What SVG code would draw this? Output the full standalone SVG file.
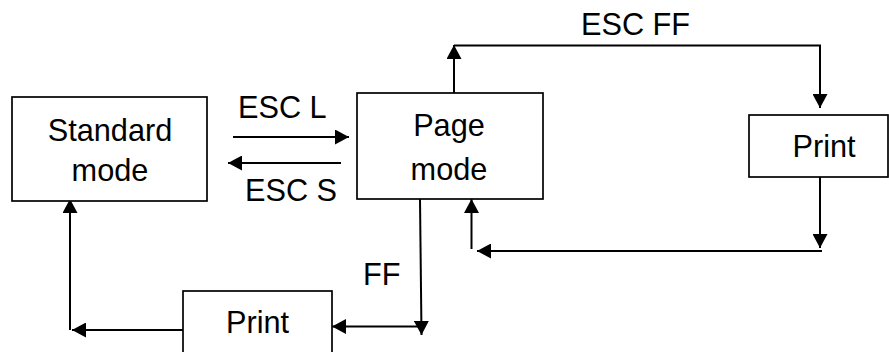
<svg xmlns="http://www.w3.org/2000/svg" width="889" height="352" viewBox="0 0 889 352">
  <style>
    .box { fill: #ffffff; stroke: #000000; stroke-width: 1.7; }
    .lbl { font-family: "Liberation Sans", Arial, sans-serif; font-size: 30.7px; fill: #000000; }
    .mid { text-anchor: middle; }
    .wire { fill: none; stroke: #000000; stroke-width: 2; }
  </style>
  <defs>
    <marker id="arrow" markerUnits="userSpaceOnUse" markerWidth="15" markerHeight="15" refX="14" refY="7.5" orient="auto">
      <path d="M0,0 L14,7.5 L0,15 Z" fill="#000000"/>
    </marker>
  </defs>

  <rect width="889" height="352" fill="#ffffff"/>

  <!-- connectors -->
  <g id="connectors">
    <path class="wire" d="M233,137 H349" marker-end="url(#arrow)"/>
    <path class="wire" d="M341,163 H228" marker-end="url(#arrow)"/>
    <path class="wire" d="M454,99 V45" marker-end="url(#arrow)"/>
    <path class="wire" d="M454,45.5 H820 V108" marker-end="url(#arrow)"/>
    <path class="wire" d="M820,177 V248" marker-end="url(#arrow)"/>
    <path class="wire" d="M822,251 H477" marker-end="url(#arrow)"/>
    <path class="wire" d="M471.5,249 V199" marker-end="url(#arrow)"/>
    <path class="wire" d="M420,199 L421.5,335" marker-end="url(#arrow)"/>
    <path class="wire" d="M421,326.5 H332" marker-end="url(#arrow)"/>
    <path class="wire" d="M183,330 H72" marker-end="url(#arrow)"/>
    <path class="wire" d="M70,330 V199" marker-end="url(#arrow)"/>
  </g>

  <!-- connector labels -->
  <g id="labels">
    <text class="lbl" x="238" y="118">ESC L</text>
    <text class="lbl" x="245" y="201">ESC S</text>
    <text class="lbl" x="581" y="35">ESC FF</text>
    <text class="lbl" x="363" y="285">FF</text>
  </g>

  <g id="standard-mode">
    <rect class="box" x="12" y="97" width="195" height="104"/>
    <text class="lbl mid" x="110" y="141">Standard</text>
    <text class="lbl mid" x="110" y="181">mode</text>
  </g>

  <g id="page-mode">
    <rect class="box" x="357" y="93" width="186" height="106"/>
    <text class="lbl mid" x="449" y="136">Page</text>
    <text class="lbl mid" x="449" y="180">mode</text>
  </g>

  <g id="print-right">
    <rect class="box" x="749" y="115" width="139" height="62"/>
    <text class="lbl mid" x="824" y="157">Print</text>
  </g>

  <g id="print-bottom">
    <rect class="box" x="183" y="291" width="149" height="70"/>
    <text class="lbl mid" x="257.5" y="333">Print</text>
  </g>
</svg>
